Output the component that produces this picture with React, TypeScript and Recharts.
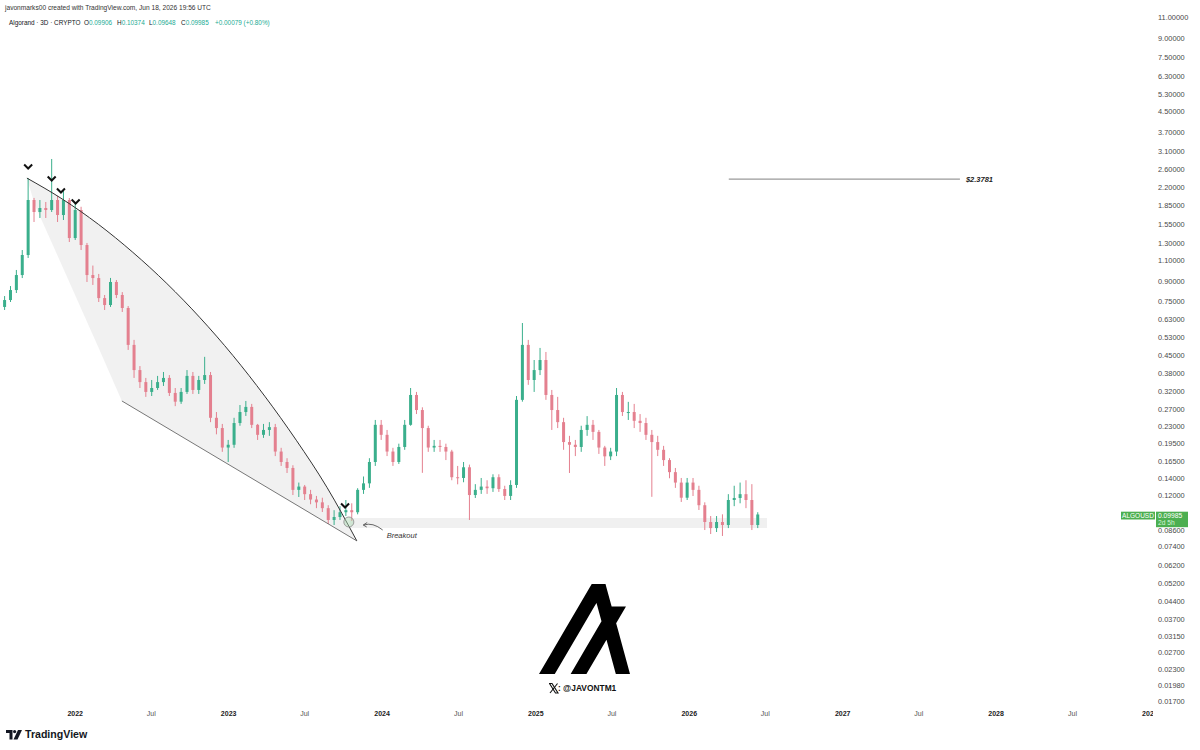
import React from 'react';
import {
  ComposedChart,
  Bar,
  Line,
  Area,
  XAxis,
  YAxis,
  ReferenceArea,
  ReferenceLine,
  ReferenceDot,
} from 'recharts';

const DAY = 86400000;
const ts = (s: string) => Date.parse(s + 'T00:00:00Z');

// ALGOUSD, candles regrouped to ~2 weeks
const firstCandleDate = '2021-07-18';
const candleDays = 14;
const firstOpen = 0.71;

const closes = [
  0.758, 0.833, 0.96, 1.16, 1.951, 1.742, 1.809, 1.775, 1.951, 1.693,
  1.951, 1.362, 1.775, 1.275, 0.96, 0.933, 0.772, 0.723, 0.899, 0.795,
  0.703, 0.496, 0.391, 0.349, 0.318, 0.33, 0.349, 0.363, 0.315, 0.29,
  0.318, 0.37, 0.324, 0.356, 0.373, 0.249, 0.226, 0.188, 0.193, 0.237,
  0.263, 0.276, 0.233, 0.212, 0.222, 0.228, 0.181, 0.164, 0.155, 0.126,
  0.13, 0.121, 0.115, 0.112, 0.106, 0.0948, 0.0975, 0.102, 0.104, 0.102,
  0.126, 0.134, 0.164, 0.233, 0.212, 0.181, 0.164, 0.189, 0.233, 0.309,
  0.268, 0.226, 0.188, 0.191, 0.189, 0.181, 0.142, 0.141, 0.156, 0.12,
  0.126, 0.13, 0.128, 0.142, 0.127, 0.119, 0.132, 0.295, 0.496, 0.356,
  0.391, 0.43, 0.309, 0.268, 0.239, 0.198, 0.193, 0.189, 0.222, 0.233,
  0.218, 0.188, 0.173, 0.181, 0.309, 0.263, 0.263, 0.242, 0.237, 0.212,
  0.198, 0.184, 0.167, 0.149, 0.135, 0.117, 0.135, 0.126, 0.109, 0.093,
  0.0878, 0.093, 0.0904, 0.1145, 0.1167, 0.121, 0.1145, 0.0904, 0.09985,
];

const highs = [
  0.787, 0.865, 1.007, 1.216, 2.4, 1.99, 1.951, 1.915, 2.875, 2.03,
  2.144, 1.988, 1.897, 1.83, 1.3, 1.05, 0.97, 0.795, 0.934, 0.916,
  0.817, 0.716, 0.52, 0.406, 0.363, 0.356, 0.37, 0.384, 0.373, 0.33,
  0.33, 0.391, 0.384, 0.37, 0.443, 0.384, 0.263, 0.235, 0.202, 0.249,
  0.281, 0.292, 0.284, 0.235, 0.235, 0.239, 0.235, 0.1875, 0.17, 0.159,
  0.135, 0.132, 0.126, 0.119, 0.117, 0.109, 0.104, 0.108, 0.1145, 0.111,
  0.128, 0.143, 0.17, 0.244, 0.244, 0.222, 0.1875, 0.195, 0.244, 0.33,
  0.318, 0.275, 0.231, 0.202, 0.202, 0.195, 0.184, 0.158, 0.164, 0.16,
  0.133, 0.141, 0.138, 0.146, 0.146, 0.131, 0.138, 0.306, 0.61, 0.52,
  0.43, 0.482, 0.464, 0.324, 0.3035, 0.249, 0.21, 0.202, 0.231, 0.253,
  0.244, 0.222, 0.191, 0.1875, 0.33, 0.318, 0.2895, 0.284, 0.258, 0.249,
  0.222, 0.21, 0.191, 0.17, 0.155, 0.141, 0.141, 0.141, 0.131, 0.112,
  0.0984, 0.0984, 0.1, 0.121, 0.131, 0.135, 0.138, 0.133, 0.102,
];

const lows = [
  0.69, 0.744, 0.81, 0.933, 1.128, 1.585, 1.646, 1.646, 1.742, 1.585,
  1.615, 1.312, 1.337, 1.216, 0.899, 0.874, 0.744, 0.69, 0.71, 0.772,
  0.677, 0.473, 0.363, 0.33, 0.3035, 0.306, 0.324, 0.3365, 0.306, 0.278,
  0.284, 0.312, 0.312, 0.312, 0.343, 0.239, 0.213, 0.1805, 0.164, 0.1875,
  0.231, 0.2534, 0.226, 0.202, 0.206, 0.21, 0.1734, 0.158, 0.1478, 0.12,
  0.1178, 0.1145, 0.11, 0.106, 0.1022, 0.0913, 0.0904, 0.0948, 0.0984, 0.0939,
  0.1, 0.1213, 0.1284, 0.158, 0.202, 0.1734, 0.158, 0.161, 0.184, 0.231,
  0.258, 0.148, 0.1805, 0.1805, 0.1805, 0.167, 0.138, 0.1328, 0.1354, 0.0948,
  0.1167, 0.1213, 0.1213, 0.1236, 0.1236, 0.1145, 0.1145, 0.1284, 0.29, 0.34,
  0.318, 0.373, 0.295, 0.222, 0.226, 0.184, 0.1478, 0.1734, 0.1805, 0.21,
  0.202, 0.177, 0.158, 0.167, 0.1734, 0.2534, 0.244, 0.226, 0.218, 0.202,
  0.118, 0.1734, 0.158, 0.1406, 0.1284, 0.1124, 0.1145, 0.1189, 0.1042, 0.0862,
  0.083, 0.0846, 0.0815, 0.0878, 0.108, 0.111, 0.106, 0.0862, 0.0878,
];

const priceTicks = [
  11, 9, 7.5, 6.3, 5.3, 4.5, 3.7, 3.1, 2.6, 2.2, 1.85, 1.55, 1.3, 1.1, 0.9,
  0.75, 0.63, 0.53, 0.45, 0.38, 0.32, 0.27, 0.23, 0.195, 0.165, 0.14, 0.12,
  0.086, 0.074, 0.062, 0.052, 0.044, 0.037, 0.0315, 0.027, 0.023, 0.0198, 0.017,
];

const timeTicks = [
  '2022-01-01', '2022-07-01', '2023-01-01', '2023-07-01', '2024-01-01',
  '2024-07-01', '2025-01-01', '2025-07-01', '2026-01-01', '2026-07-01',
  '2027-01-01', '2027-07-01', '2028-01-01', '2028-07-01', '2029-01-01',
];

// drawings on the chart: [date, price]
const wedgeTop: [string, number][] = [
  ['2021-09-08', 2.4], ['2021-12-03', 1.96], ['2022-02-25', 1.551],
  ['2022-05-18', 1.19], ['2022-08-07', 0.886], ['2022-10-25', 0.641],
  ['2023-01-11', 0.449], ['2023-03-28', 0.3055], ['2023-06-11', 0.2014],
  ['2023-08-23', 0.129], ['2023-11-02', 0.0778],
];
const wedgeBottom: [string, number][] = [['2022-04-22', 0.292], ['2023-11-02', 0.0778]];
// [date, lower edge, upper edge] of the grey fill
const wedgeFill: [string, number, number][] = [
  ['2021-09-08', 2.4, 2.4], ['2021-09-27', 1.86, 2.3], ['2021-12-03', 1.027, 1.96],
  ['2022-02-25', 0.485, 1.551], ['2022-04-22', 0.292, 1.292], ['2022-05-18', 0.2747, 1.19],
  ['2022-08-07', 0.2269, 0.886], ['2022-10-25', 0.1884, 0.641], ['2023-01-11', 0.1564, 0.449],
  ['2023-03-28', 0.1307, 0.3055], ['2023-06-11', 0.1094, 0.2014], ['2023-08-23', 0.0921, 0.129],
  ['2023-11-02', 0.0778, 0.0778],
];
const topMarkers: [string, number][] = [
  ['2021-09-11', 2.665], ['2021-11-06', 2.379], ['2021-11-28', 2.124],
  ['2022-01-02', 1.915], ['2023-10-05', 0.1082],
];
const breakoutPoint: [string, number] = ['2023-10-14', 0.093];
const breakoutNote: [string, number] = ['2023-11-16', 0.0904];
const supportZone = { from: '2023-10-16', to: '2026-07-05', low: 0.0878, high: 0.0966 };
const target = { from: '2026-04-05', to: '2027-10-07', price: 2.3781 };
const lastPrice = 0.09985;

const candles = closes.map((close, i) => ({
  t: ts(firstCandleDate) + i * candleDays * DAY,
  open: i === 0 ? firstOpen : closes[i - 1],
  high: highs[i],
  low: lows[i],
  close,
  range: [lows[i], highs[i]],
}));

const topData = wedgeTop.map(([d, p]) => ({ t: ts(d), p }));
const bottomData = wedgeBottom.map(([d, p]) => ({ t: ts(d), p }));
const fillData = wedgeFill.map(([d, lo, hi]) => ({ t: ts(d), band: [lo, hi] }));

const X_DOMAIN = [ts('2021-07-06'), ts('2029-01-06')];
const FONT = 'Liberation Sans, Arial, sans-serif';
const UP = '#3aaf8c';
const DOWN = '#e4808f';
const GREEN_TXT = '#22ab94';

function Candle(props: any) {
  const { x, y, width, height, payload } = props;
  if (!payload) return null;
  const { open, close, high, low } = payload;
  // the bar spans low..high; high is the upper end on screen
  const yHigh = Math.min(y, y + height);
  const h = Math.abs(height);
  const span = Math.log(high / low) || 1;
  const at = (v: number) => yHigh + (Math.log(high / v) / span) * h;
  const color = close >= open ? UP : DOWN;
  const cx = x + width / 2;
  const top = at(Math.max(open, close));
  const bot = at(Math.min(open, close));
  return (
    <g>
      <line x1={cx} x2={cx} y1={yHigh} y2={yHigh + h} stroke={color} strokeWidth={1} />
      <rect x={x} y={top} width={width} height={Math.max(1, bot - top)} fill={color} />
    </g>
  );
}

function PriceTick(props: any) {
  const { y, payload } = props;
  return (
    <text x={1158} y={y} dy={2.6} fontSize={7.4} fill="#4a4a4a" fontFamily={FONT}>
      {Number(payload.value).toFixed(5)}
    </text>
  );
}

function TimeTick(props: any) {
  const { x, payload } = props;
  const d = new Date(payload.value);
  const isYear = d.getUTCMonth() === 0;
  return (
    <text
      x={x}
      y={716}
      textAnchor="middle"
      fontSize={7}
      fontWeight={isYear ? 700 : 400}
      fill={isYear ? '#222' : '#555'}
      fontFamily={FONT}
    >
      {isYear ? d.getUTCFullYear() : 'Jul'}
    </text>
  );
}

const chevron = (p: any) => (
  <path
    d={`M${p.cx - 4},${p.cy - 2.5} L${p.cx},${p.cy + 1.5} L${p.cx + 4},${p.cy - 2.5}`}
    stroke="#111"
    strokeWidth={2}
    fill="none"
  />
);

const breakoutLabel = (p: any) => (
  <g>
    <path
      d={`M${p.cx + 20},${p.cy + 5} Q${p.cx + 10},${p.cy - 3} ${p.cx + 1},${p.cy}`}
      stroke="#444"
      strokeWidth={0.8}
      fill="none"
    />
    <path
      d={`M${p.cx + 4.5},${p.cy - 2.5} L${p.cx + 0.5},${p.cy} L${p.cx + 4},${p.cy + 2}`}
      stroke="#444"
      strokeWidth={0.8}
      fill="none"
    />
    <text x={p.cx + 24} y={p.cy + 12.5} fontSize={7.5} fontStyle="italic" fill="#333" fontFamily={FONT}>
      Breakout
    </text>
  </g>
);

const targetLabel = (p: any) => (
  <text
    x={p.cx + 6}
    y={p.cy + 2.6}
    fontSize={7.5}
    fontStyle="italic"
    fontWeight={700}
    fill="#222"
    fontFamily={FONT}
  >
    ${target.price.toFixed(4)}
  </text>
);

const lastPriceLabel = (p: any) => (
  <g fontFamily={FONT}>
    <rect x={1121} y={p.cy - 2.8} width={34} height={7.8} fill="#4caf50" />
    <text x={1138} y={p.cy + 3.2} fontSize={6.5} fill="#fff" textAnchor="middle">
      ALGOUSD
    </text>
    <rect x={1156} y={p.cy - 2.8} width={32} height={15.5} fill="#4caf50" />
    <text x={1158} y={p.cy + 3.4} fontSize={6.7} fill="#fff">
      {lastPrice.toFixed(5)}
    </text>
    <text x={1158} y={p.cy + 10.2} fontSize={6.7} fill="#d8f5d8">
      2d 5h
    </text>
  </g>
);

export default function App() {
  return (
    <div
      style={{
        position: 'absolute',
        left: 0,
        top: 0,
        width: 1200,
        height: 750,
        background: '#fff',
        overflow: 'hidden',
        fontFamily: FONT,
      }}
    >
      <ComposedChart width={1200} height={750} data={candles} margin={{ top: 0, right: 0, bottom: 0, left: 0 }}>
        <XAxis
          dataKey="t"
          type="number"
          domain={X_DOMAIN}
          ticks={timeTicks.map(ts)}
          interval={0}
          allowDataOverflow
          axisLine={false}
          tickLine={false}
          height={46}
          tick={(p: any) => <TimeTick {...p} />}
        />
        {/* same time scale for the hand drawings, kept apart so candle width is not squeezed */}
        <XAxis xAxisId="draw" dataKey="t" type="number" domain={X_DOMAIN} allowDataOverflow hide height={0} />
        <YAxis
          orientation="right"
          type="number"
          scale="log"
          domain={[0.01665, 12.92]}
          ticks={priceTicks}
          interval={0}
          allowDataOverflow
          axisLine={false}
          tickLine={false}
          width={48}
          tick={(p: any) => <PriceTick {...p} />}
        />
        <ReferenceArea
          x1={ts(supportZone.from)}
          x2={ts(supportZone.to)}
          y1={supportZone.low}
          y2={supportZone.high}
          fill="#e6e6e6"
          fillOpacity={0.6}
          stroke="none"
        />
        <Area
          xAxisId="draw"
          data={fillData}
          dataKey="band"
          type="linear"
          fill="#efefef"
          fillOpacity={0.85}
          stroke="none"
          dot={false}
          activeDot={false}
          isAnimationActive={false}
        />
        <Bar dataKey="range" barSize={3} shape={(p: any) => <Candle {...p} />} isAnimationActive={false} />
        <Line
          xAxisId="draw"
          data={topData}
          dataKey="p"
          type="monotone"
          stroke="#333"
          strokeWidth={1}
          dot={false}
          activeDot={false}
          isAnimationActive={false}
        />
        <Line
          xAxisId="draw"
          data={bottomData}
          dataKey="p"
          type="linear"
          stroke="#555"
          strokeWidth={0.8}
          dot={false}
          activeDot={false}
          isAnimationActive={false}
        />
        <ReferenceLine
          segment={[
            { x: ts(target.from), y: target.price },
            { x: ts(target.to), y: target.price },
          ]}
          stroke="#9a9a9a"
          strokeWidth={1.2}
        />
        <ReferenceDot x={ts(target.to)} y={target.price} shape={targetLabel} />
        {topMarkers.map(([d, p]) => (
          <ReferenceDot key={d} x={ts(d)} y={p} shape={chevron} />
        ))}
        <ReferenceDot
          x={ts(breakoutPoint[0])}
          y={breakoutPoint[1]}
          r={5}
          fill="#a8d8b0"
          fillOpacity={0.45}
          stroke="#8a8a8a"
          strokeWidth={0.8}
        />
        <ReferenceDot x={ts(breakoutNote[0])} y={breakoutNote[1]} shape={breakoutLabel} />
        <ReferenceDot x={candles[candles.length - 1].t} y={lastPrice} shape={lastPriceLabel} />
      </ComposedChart>

      {/* header */}
      <div style={{ position: 'absolute', left: 5, top: 4, fontSize: 6.6, color: '#333', whiteSpace: 'nowrap' }}>
        javonmarks00 created with TradingView.com, Jun 18, 2026 19:56 UTC
      </div>
      <div style={{ position: 'absolute', left: 0, top: 19, fontSize: 6.4, color: '#131722', whiteSpace: 'nowrap' }}>
        <span style={{ position: 'absolute', left: 9 }}>Algorand · 3D · CRYPTO</span>
        <span style={{ position: 'absolute', left: 84 }}>
          O<span style={{ color: GREEN_TXT }}>0.09906</span>
        </span>
        <span style={{ position: 'absolute', left: 117 }}>
          H<span style={{ color: GREEN_TXT }}>0.10374</span>
        </span>
        <span style={{ position: 'absolute', left: 149 }}>
          L<span style={{ color: GREEN_TXT }}>0.09648</span>
        </span>
        <span style={{ position: 'absolute', left: 181 }}>
          C<span style={{ color: GREEN_TXT }}>0.09985</span>
        </span>
        <span style={{ position: 'absolute', left: 215, color: GREEN_TXT }}>+0.00079 (+0.80%)</span>
      </div>

      {/* time scale ends at the price scale */}
      <div style={{ position: 'absolute', left: 1153, top: 705, width: 47, height: 20, background: '#fff' }} />

      {/* watermark */}
      <svg
        style={{ position: 'absolute', left: 539, top: 584 }}
        width={91}
        height={90}
        viewBox="0 0 113 113.4"
        preserveAspectRatio="none"
      >
        <polygon
          fill="#000"
          points="19.6,113.4 36,85 52.4,56.7 68.7,28.3 71.4,23.8 72.6,28.3 77.6,47 72,56.7 55.6,85 39.3,113.4 58.9,113.4 75.3,85 83.8,70.3 87.8,85 95.4,113.4 113,113.4 105.4,85 97.8,56.7 95.8,49.4 108,28.3 90.2,28.3 89.6,26.2 83.4,3 82.6,0 65.5,0 65.1,0.6 49.1,28.3 32.7,56.7 16.4,85 0,113.4"
        />
      </svg>
      <svg style={{ position: 'absolute', left: 549, top: 683 }} width={10} height={11}>
        <path d="M0.5,0.5 L3,0.5 L9,10 L6.5,10 Z" fill="none" stroke="#111" strokeWidth={1.1} />
        <path d="M8.5,0.5 L1,10" stroke="#111" strokeWidth={1.1} />
      </svg>
      <div
        style={{ position: 'absolute', left: 558, top: 683, fontSize: 8.4, fontWeight: 700, color: '#111', whiteSpace: 'nowrap' }}
      >
        : @JAVONTM1
      </div>

      {/* TradingView mark */}
      <svg style={{ position: 'absolute', left: 6, top: 730 }} width={17} height={10}>
        <path d="M0,0 H6.5 V9.5 H3.5 V3 H0 Z" fill="#131722" />
        <circle cx={8.6} cy={1.6} r={1.6} fill="#131722" />
        <path d="M12,0 H16 L11.5,9.5 H7.5 Z" fill="#131722" />
      </svg>
      <div
        style={{ position: 'absolute', left: 25, top: 728, fontSize: 10.6, fontWeight: 700, color: '#131722', whiteSpace: 'nowrap' }}
      >
        TradingView
      </div>
    </div>
  );
}
